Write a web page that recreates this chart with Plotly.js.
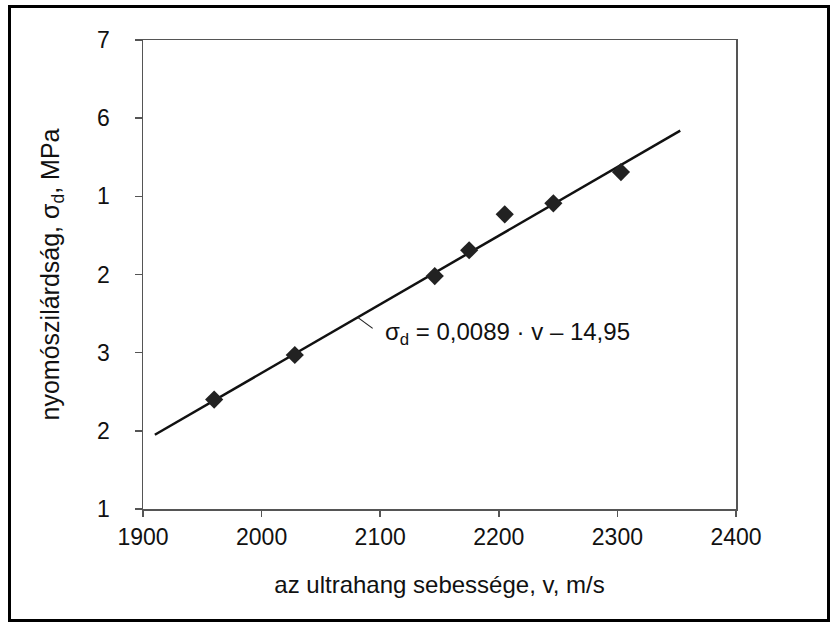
<!DOCTYPE html>
<html>
<head>
<meta charset="utf-8">
<script src="https://cdn.plot.ly/plotly-3.0.1.min.js"></script>
<style>
  html, body { margin: 0; padding: 0; background: #ffffff; }
  #wrap { position: relative; width: 831px; height: 623px; }
  #chart { position: absolute; left: 0; top: 0; width: 831px; height: 623px; }
  #frame { position: absolute; left: 8px; top: 5px; width: 822px; height: 617px;
           box-sizing: border-box; border: 3px solid #000; pointer-events: none; }
</style>
</head>
<body>
<div id="wrap">
  <div id="chart"></div>
  <div id="frame"></div>
</div>
<script>
// Measured points: ultrasound velocity (m/s) vs compressive strength
const velocity = [1960, 2028, 2146, 2175, 2205, 2246, 2303];
const strength = [2.40, 2.97, 3.98, 4.31, 4.77, 4.91, 5.31];

// Fitted trend line endpoints
const fitX = [1910, 2353];
const fitY = [1.95, 5.84];

// Axis ticks
const xTickVals = [1900, 2000, 2100, 2200, 2300, 2400];
const yTickVals = [1, 2, 3, 4, 5, 6, 7];
const yTickText = ['1', '2', '3', '2', '1', '6', '7'];

const equationText = 'σ<sub>d</sub> = 0,0089 · v – 14,95';
const leaderX = 2081;

function fitAt(x) {
  return fitY[0] + (fitY[1] - fitY[0]) * (x - fitX[0]) / (fitX[1] - fitX[0]);
}

const font = 'Liberation Sans, Arial, sans-serif';

const traces = [
  {
    x: fitX, y: fitY, type: 'scatter', mode: 'lines',
    line: { color: '#111', width: 2.5 }, hoverinfo: 'skip', showlegend: false
  },
  {
    x: velocity, y: strength, type: 'scatter', mode: 'markers',
    marker: { symbol: 'diamond', size: 14, color: '#222', line: { width: 0 } },
    showlegend: false
  }
];

const layout = {
  width: 831, height: 623,
  margin: { l: 143, r: 95, t: 40, b: 114 },
  paper_bgcolor: '#ffffff', plot_bgcolor: '#ffffff',
  font: { family: font, size: 23, color: '#111' },
  showlegend: false,
  xaxis: {
    range: [1900, 2400], tickvals: xTickVals, ticktext: xTickVals.map(String),
    ticks: 'outside', ticklen: 6, tickwidth: 1.5, tickcolor: '#555',
    showline: true, linecolor: '#555', linewidth: 1.5, mirror: true,
    showgrid: false, zeroline: false,
    ticklabelstandoff: 1,
    tickfont: { family: font, size: 23, color: '#111' },
    title: { text: 'az ultrahang sebessége, v, m/s', standoff: 27,
             font: { family: font, size: 24, color: '#111' } }
  },
  yaxis: {
    range: [1, 7], tickvals: yTickVals, ticktext: yTickText,
    ticks: 'outside', ticklen: 7, tickwidth: 1.5, tickcolor: '#555',
    showline: true, linecolor: '#555', linewidth: 1.5, mirror: true,
    showgrid: false, zeroline: false,
    ticklabelstandoff: 20,
    tickfont: { family: font, size: 23, color: '#111' },
    title: { text: 'nyomószilárdság, σ<sub>d</sub>, MPa', standoff: 30,
             font: { family: font, size: 25, color: '#111' } }
  },
  annotations: [
    {
      x: 2092, y: fitAt(2081), xref: 'x', yref: 'y',
      text: equationText, showarrow: false,
      xanchor: 'left', yanchor: 'middle', yshift: -16, xshift: 12,
      font: { family: font, size: 24, color: '#111' }
    }
  ],
  shapes: [
    {
      type: 'line', xref: 'x', yref: 'y',
      xsizemode: 'pixel', ysizemode: 'pixel',
      xanchor: leaderX, yanchor: fitAt(leaderX),
      x0: 0, y0: 0, x1: 15, y1: -11,
      line: { color: '#222', width: 1.2 }
    }
  ]
};

Plotly.newPlot('chart', traces, layout, { staticPlot: true, displayModeBar: false });
</script>
</body>
</html>
